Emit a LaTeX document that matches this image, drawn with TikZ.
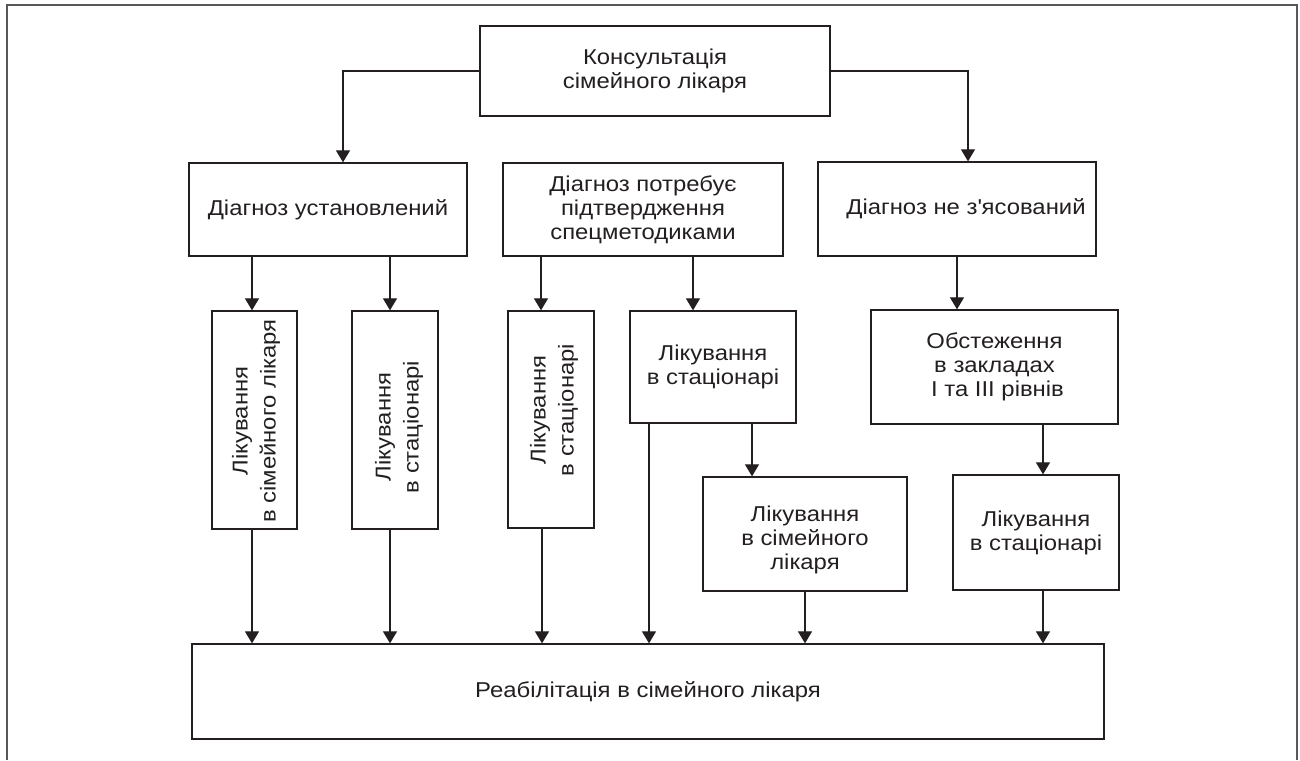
\documentclass[tikz,border=0pt]{standalone}
\usepackage{fontspec}
\setmainfont[FakeStretch=1.11]{Liberation Sans}
\usetikzlibrary{arrows.meta}
\definecolor{ink}{HTML}{231F20}
\begin{document}
\begin{tikzpicture}[x=1pt,y=-1pt,
  box/.style={draw=ink,line width=1.3pt,inner sep=0pt,align=center,text=ink,
    font=\fontsize{21.5}{24}\selectfont},
  htext/.style={align=center,text=ink,inner sep=0pt,
    font=\fontsize{21.5}{24}\selectfont},
  vtext/.style={rotate=90,align=center,text=ink,inner sep=0pt,
    font=\fontsize{21.5}{28}\selectfont},
  arr/.style={draw=ink,line width=1.2pt,-{Triangle[width=14pt,length=12pt]}}]
\useasboundingbox (0,0) rectangle (1300,760);
\draw[draw=ink!75,line width=1.6pt] (7,760) -- (7,5) -- (1297,5) -- (1297,760);
% nodes (centre x, centre y, width, height)
\node[box,minimum width=350pt,minimum height=90pt] (kons) at (655,71) {Консультація\\сімейного лікаря};
\node[box,minimum width=278pt,minimum height=93pt] (d1) at (328,209.5) {Діагноз установлений};
\node[box,minimum width=280pt,minimum height=93pt] (d2) at (643,209.5) {Діагноз потребує\\підтвердження\\спецметодиками};
\node[box,minimum width=278pt,minimum height=94pt] (d3) at (957,209) {\hspace*{18pt}Діагноз не з\textquotesingle ясований};
\node[box,minimum width=85pt,minimum height=218pt] (v1) at (254.5,420) {};
\node[vtext] (t1) at (256,421) {Лікування\\в сімейного лікаря};
\node[box,minimum width=86pt,minimum height=218pt] (v2) at (395,420) {};
\node[vtext] (t2) at (399,427) {Лікування\\в стаціонарі};
\node[box,minimum width=86pt,minimum height=217pt] (v3) at (551,419.5) {};
\node[vtext] (t3) at (554,410) {Лікування\\в стаціонарі};
\node[box,minimum width=166pt,minimum height=112pt] (s1) at (713,367) {Лікування\\в стаціонарі};
\node[box,minimum width=204pt,minimum height=114pt] (f1) at (805,534) {};
\node[htext] (f1t) at (805,540) {Лікування\\в сімейного\\лікаря};
\node[box,minimum width=247pt,minimum height=114pt] (ob) at (994.5,367) {Обстеження\\в закладах\\\hspace*{6pt}I та III рівнів};
\node[box,minimum width=166pt,minimum height=115pt] (r1) at (1036,532.5) {Лікування\\в стаціонарі};
\node[box,minimum width=912pt,minimum height=95pt] (reab) at (648,691.5) {Реабілітація в сімейного лікаря};
% connectors
\draw[arr] (kons.west) -- (343,0 |- kons.west) -- (343,0 |- d1.north);
\draw[arr] (kons.east) -- (968,0 |- kons.east) -- (968,0 |- d3.north);
\draw[arr] (252,0 |- d1.south) -- (252,0 |- v1.north);
\draw[arr] (390,0 |- d1.south) -- (390,0 |- v2.north);
\draw[arr] (541,0 |- d2.south) -- (541,0 |- v3.north);
\draw[arr] (693,0 |- d2.south) -- (693,0 |- s1.north);
\draw[arr] (957,0 |- d3.south) -- (957,0 |- ob.north);
\draw[arr] (252,0 |- v1.south) -- (252,0 |- reab.north);
\draw[arr] (390,0 |- v2.south) -- (390,0 |- reab.north);
\draw[arr] (542,0 |- v3.south) -- (542,0 |- reab.north);
\draw[arr] (649,0 |- s1.south) -- (649,0 |- reab.north);
\draw[arr] (752,0 |- s1.south) -- (752,0 |- f1.north);
\draw[arr] (805,0 |- f1.south) -- (805,0 |- reab.north);
\draw[arr] (1043,0 |- ob.south) -- (1043,0 |- r1.north);
\draw[arr] (1043,0 |- r1.south) -- (1043,0 |- reab.north);
\end{tikzpicture}
\end{document}
